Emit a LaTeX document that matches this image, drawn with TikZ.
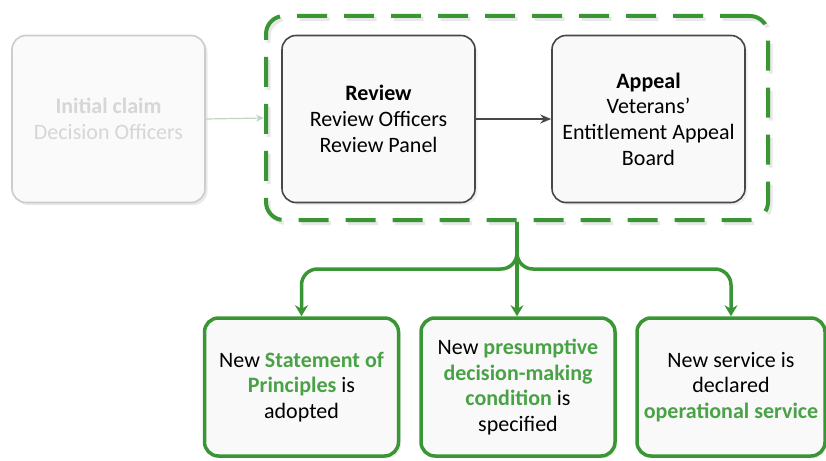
\documentclass[tikz,border=0pt]{standalone}
\usepackage{fontspec}
\setmainfont{Carlito}
\usetikzlibrary{arrows.meta,shadows}

\definecolor{vgreen}{RGB}{58,150,52}
\definecolor{vtext}{RGB}{74,162,70}
\definecolor{vdark}{RGB}{72,72,72}
\definecolor{vpale}{RGB}{192,214,192}

\tikzset{
	stage/.style={draw=vdark, line width=1.6pt, rounded corners=14pt, fill=gray!5,
		minimum width=193pt, minimum height=167pt, align=center,
		font=\fontsize{22}{25.7}\selectfont,
		drop shadow={shadow xshift=2.5pt, shadow yshift=-2.5pt, opacity=0.12}},
	faded/.style={stage, draw=gray!40, fill=gray!4, text=gray!32,
		drop shadow={shadow xshift=2.5pt, shadow yshift=-2.5pt, opacity=0.06}},
	outcome/.style={stage, draw=vgreen, line width=3.5pt, minimum width=194pt, minimum height=138pt},
	frame/.style={draw=vgreen, line width=4pt, rounded corners=18pt, dash pattern=on 30pt off 17pt,
		minimum width=502pt, minimum height=204pt},
	flow/.style={vgreen, line width=3.5pt, rounded corners=16pt, -{Stealth[length=11pt,width=13pt]}}
}

\begin{document}
\begin{tikzpicture}[x=1pt, y=-1pt]
	\useasboundingbox (0,0) rectangle (826,460);

	% stages of the process
	\node[faded] (claim) at (108.5,119) {\textbf{Initial claim}\\Decision Officers};
	\node[stage] (review) at (378.5,119) {\textbf{Review}\\Review Officers\\Review Panel};
	\node[stage] (appeal) at (648.5,119) {\textbf{Appeal}\\Veterans'\\Entitlement Appeal\\Board};

	\node[frame, draw=gray!18] (framesh) at (519.5,121) {};
	\node[frame] (frame) at (517,118) {};

	\draw[vpale, line width=1.2pt, -{Stealth[length=8pt,width=7pt]}] (claim.east) -- (frame.west);
	\draw[vdark, line width=1.6pt, -{Stealth[length=11pt,width=9pt]}] (review.east) -- (appeal.west);

	% outcomes
	\node[outcome] (sop) at (301.5,387) {New \textcolor{vtext}{\textbf{Statement of}}\\\textcolor{vtext}{\textbf{Principles}} is\\adopted};
	\node[outcome] (pdm) at (518,387) {New \textcolor{vtext}{\textbf{presumptive}}\\\textcolor{vtext}{\textbf{decision-making}}\\\textcolor{vtext}{\textbf{condition}} is\\specified};
	\node[outcome, minimum width=188pt] (ops) at (731,387) {New service is\\declared\\\textcolor{vtext}{\textbf{operational service}}};

	\coordinate (split) at (517,269);
	\foreach \t in {sop,ops}
		\draw[flow] (frame.south) -- (split) -| (\t.north);
	\draw[flow] (frame.south) -- (frame.south |- pdm.north);
\end{tikzpicture}
\end{document}
